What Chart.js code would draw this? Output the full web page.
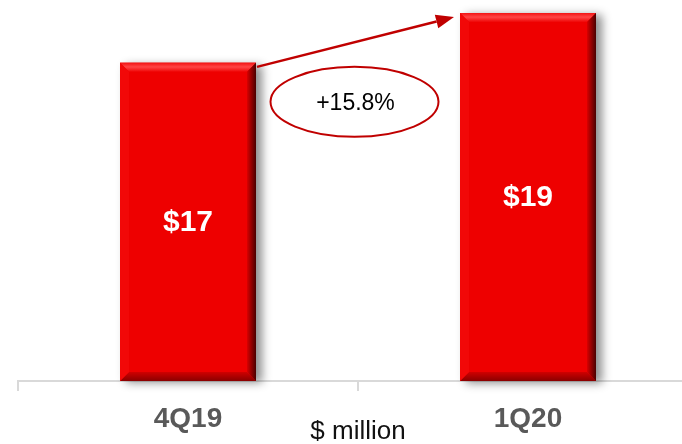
<!DOCTYPE html>
<html>
<head>
<meta charset="utf-8">
<script src="https://cdn.jsdelivr.net/npm/chart.js@4"></script>
<style>
  html, body { margin:0; padding:0; background:#fff; overflow:hidden; }
  #wrap { width:700px; height:444px; }
</style>
</head>
<body>
<div id="wrap"><canvas id="barChart" width="700" height="444"></canvas></div>
<script>
// data
const categories = ["4Q19", "1Q20"];
const revenue = [16.6, 19.2];
const barLabels = ["$17", "$19"];
const growthLabel = "+15.8%";
const unitLabel = "$ million";

const FONT = "'Liberation Sans', Arial, sans-serif";
const RED = "#ee0000";
const DARKRED = "#c00000";

// shadow + bevel on the bars, value labels, growth arrow and ellipse
const barDecor = {
    id: "barDecor",
    beforeDatasetsDraw(chart) {
        const ctx = chart.ctx;
        chart.getDatasetMeta(0).data.forEach(bar => {
            const L = bar.x - bar.width / 2, T = bar.y;
            ctx.save();
            ctx.shadowColor = "rgba(0,0,0,0.45)";
            ctx.shadowBlur = 9;
            ctx.shadowOffsetX = 6;
            ctx.shadowOffsetY = 2;
            ctx.fillStyle = RED;
            ctx.fillRect(L, T, bar.width, bar.base - T);
            ctx.restore();
        });
    },
    afterDatasetsDraw(chart) {
        const ctx = chart.ctx;
        const bars = chart.getDatasetMeta(0).data;
        const b = 9;
        bars.forEach((bar, i) => {
            const L = bar.x - bar.width / 2, R = bar.x + bar.width / 2;
            const T = bar.y, B = bar.base;
            ctx.save();
            // top bevel
            let g = ctx.createLinearGradient(0, T, 0, T + b);
            g.addColorStop(0, "#f31414");
            g.addColorStop(0.45, "#ff4545");
            g.addColorStop(1, "#ef0606");
            ctx.fillStyle = g;
            ctx.beginPath();
            ctx.moveTo(L, T); ctx.lineTo(R, T); ctx.lineTo(R - b, T + b); ctx.lineTo(L + b, T + b);
            ctx.closePath(); ctx.fill();
            // bottom bevel
            g = ctx.createLinearGradient(0, B - b, 0, B);
            g.addColorStop(0, "#d00000");
            g.addColorStop(1, "#8a0000");
            ctx.fillStyle = g;
            ctx.beginPath();
            ctx.moveTo(L, B); ctx.lineTo(R, B); ctx.lineTo(R - b, B - b); ctx.lineTo(L + b, B - b);
            ctx.closePath(); ctx.fill();
            // right bevel
            g = ctx.createLinearGradient(R - b, 0, R, 0);
            g.addColorStop(0, "#d80000");
            g.addColorStop(1, "#4a0000");
            ctx.fillStyle = g;
            ctx.beginPath();
            ctx.moveTo(R, T); ctx.lineTo(R, B); ctx.lineTo(R - b, B - b); ctx.lineTo(R - b, T + b);
            ctx.closePath(); ctx.fill();
            // left bevel
            ctx.fillStyle = "#f20808";
            ctx.beginPath();
            ctx.moveTo(L, T); ctx.lineTo(L, B); ctx.lineTo(L + b, B - b); ctx.lineTo(L + b, T + b);
            ctx.closePath(); ctx.fill();

            // value label
            ctx.fillStyle = "#ffffff";
            ctx.font = "bold 30px " + FONT;
            ctx.textAlign = "center";
            ctx.textBaseline = "middle";
            ctx.fillText(barLabels[i], bar.x, (T + B) / 2 + 1);
            ctx.restore();
        });

        // growth arrow
        const a = bars[0], c = bars[1];
        const x0 = a.x + a.width / 2 + 1, y0 = a.y + 4;
        const x1 = c.x - c.width / 2 - 6, y1 = c.y + 4;
        const ang = Math.atan2(y1 - y0, x1 - x0);
        const hl = 18, hw = 7;
        const bx = x1 - hl * Math.cos(ang), by = y1 - hl * Math.sin(ang);
        ctx.save();
        ctx.strokeStyle = DARKRED;
        ctx.fillStyle = DARKRED;
        ctx.lineWidth = 2.5;
        ctx.beginPath();
        ctx.moveTo(x0, y0); ctx.lineTo(bx, by);
        ctx.stroke();
        ctx.beginPath();
        ctx.moveTo(x1, y1);
        ctx.lineTo(bx + hw * Math.sin(ang), by - hw * Math.cos(ang));
        ctx.lineTo(bx - hw * Math.sin(ang), by + hw * Math.cos(ang));
        ctx.closePath();
        ctx.fill();

        // ellipse with growth %
        const cx = (x0 + c.x - c.width / 2) / 2 - 4, cy = a.y + 39;
        ctx.lineWidth = 2;
        ctx.beginPath();
        ctx.ellipse(cx, cy, 84, 35, 0, 0, Math.PI * 2);
        ctx.stroke();
        ctx.fillStyle = "#000";
        ctx.font = "23px " + FONT;
        ctx.textAlign = "center";
        ctx.textBaseline = "alphabetic";
        ctx.fillText(growthLabel, cx + 1, cy + 8);
        ctx.restore();
    }
};

new Chart(document.getElementById("barChart"), {
    type: "bar",
    data: {
        labels: categories,
        datasets: [{
            data: revenue,
            backgroundColor: RED,
            borderWidth: 0,
            barPercentage: 0.8,
            categoryPercentage: 0.5
        }]
    },
    options: {
        responsive: false,
        animation: false,
        layout: { padding: { left: 18, right: 2, top: 0, bottom: 0 } },
        plugins: { legend: { display: false }, tooltip: { enabled: false } },
        scales: {
            y: { display: false, min: 0, max: 19.88 },
            x: {
                border: { color: "#d9d9d9", width: 2 },
                grid: { drawOnChartArea: false, drawTicks: true, tickLength: 10, color: "#d9d9d9", lineWidth: 2 },
                ticks: { color: "#595959", font: { family: FONT, size: 28, weight: "bold" }, padding: 11 },
                title: { display: true, text: unitLabel, color: "#111", font: { family: FONT, size: 26 }, padding: { top: 0, bottom: -3 } },
                afterFit(scale) { scale.height = 63; }
            }
        }
    },
    plugins: [barDecor]
});
</script>
</body>
</html>
